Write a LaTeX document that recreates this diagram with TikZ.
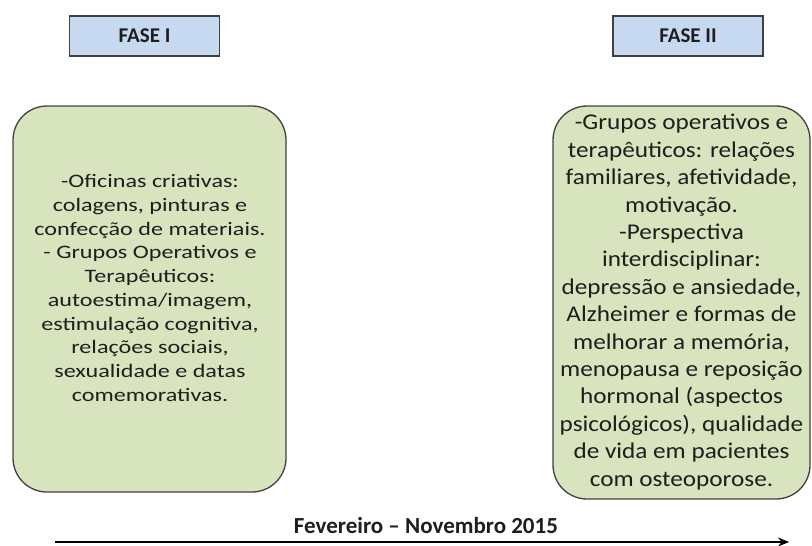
\documentclass[tikz,border=0pt]{standalone}
\usepackage{fontspec}
\setmainfont{Carlito}
\newfontfamily\leftfont[FakeStretch=1.27]{Carlito}
\newfontfamily\rightfont[FakeStretch=1.12]{Carlito}
\usetikzlibrary{arrows.meta}
\definecolor{hdrfill}{HTML}{C6D9F1}
\definecolor{grnfill}{HTML}{D7E4BD}
\definecolor{edgegray}{HTML}{404040}
\definecolor{txt}{HTML}{1E1E1E}
\tikzset{
  hdrbox/.style={draw=edgegray, line width=1.8pt, fill=hdrfill, minimum width=150pt, minimum height=40pt, inner sep=0pt,
    font=\fontsize{21}{25}\selectfont\bfseries, text=txt},
  grnbox/.style={draw=edgegray, line width=1.3pt, fill=grnfill, rounded corners=34pt},
  bodyL/.style={align=center, inner sep=0pt, text=txt, font=\fontsize{19}{23.7}\selectfont\leftfont},
  bodyR/.style={align=center, inner sep=0pt, text=txt, font=\fontsize{22.5}{27.4}\selectfont\rightfont},
  timeline/.style={line width=2.6pt, -{Stealth[length=11pt,width=9pt]}},
  datetext/.style={inner sep=0pt, text=txt, font=\fontsize{23}{27}\selectfont\bfseries}
}
\begin{document}
\begin{tikzpicture}[x=1pt,y=-1pt]
\useasboundingbox (0,0) rectangle (812,546);
\node[hdrbox] (f1) at (144.5,36) {FASE I};
\node[hdrbox] (f2) at (688,36) {FASE II};
\draw[grnbox] (13,106) rectangle (286,492);
\draw[grnbox] (553,106) rectangle (810,499);
\node[bodyL] (t1) at (150,288) {-Oficinas criativas:\\colagens, pinturas e\\confecção de materiais.\\- Grupos Operativos e\\Terapêuticos:\\autoestima/imagem,\\estimulação cognitiva,\\relações sociais,\\sexualidade e datas\\comemorativas.};
\node[bodyR] (t2) at (681.5,302) {-Grupos operativos e\\terapêuticos: relações\\familiares, afetividade,\\motivação.\\-Perspectiva\\interdisciplinar:\\depressão e ansiedade,\\Alzheimer e formas de\\melhorar a memória,\\menopausa e reposição\\hormonal (aspectos\\psicológicos), qualidade\\de vida em pacientes\\com osteoporose.};
\node[datetext] (d) at (426,526) {Fevereiro – Novembro 2015};
\coordinate (a0) at (55,542);
\coordinate (a1) at (789,542);
\draw[timeline] (a0) -- (a1);
\end{tikzpicture}
\end{document}
